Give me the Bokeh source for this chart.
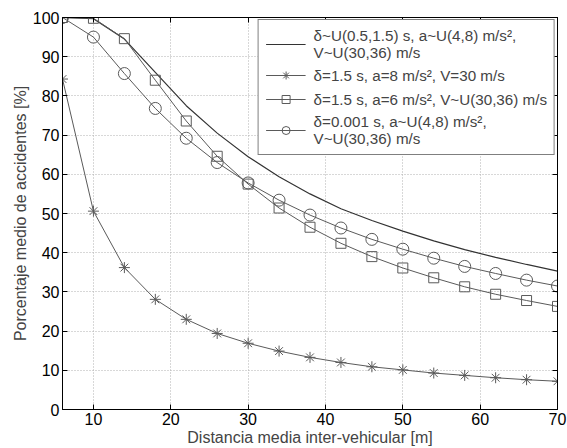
from bokeh.plotting import figure
from bokeh.models import FixedTicker, LinearAxis, Legend, LegendItem, Range1d
from bokeh.embed import file_html
from bokeh.resources import INLINE

dist = [6, 10, 14, 18, 22, 26, 30, 34, 38, 42, 46, 50, 54, 58, 62, 66, 70]
s_solid = [100, 99.7, 94.5, 86.0, 77.5, 70.5, 64.5, 59.4, 55.0, 51.2, 48.2, 45.5, 43.0, 40.8, 38.8, 37.0, 35.3]
s_star = [84.3, 50.6, 36.2, 28.1, 23.0, 19.4, 16.9, 14.9, 13.3, 12.0, 10.9, 10.1, 9.3, 8.7, 8.1, 7.6, 7.2]
s_square = [100, 99.8, 94.6, 84.0, 73.6, 64.6, 57.5, 51.4, 46.5, 42.4, 39.0, 36.1, 33.6, 31.3, 29.4, 27.8, 26.3]
s_circle = [100, 95.0, 85.7, 76.8, 69.2, 63.0, 57.8, 53.4, 49.6, 46.3, 43.4, 40.9, 38.6, 36.5, 34.7, 33.0, 31.5]

labels = [
    "\u03b4~U(0.5,1.5) s, a~U(4,8) m/s\u00b2,\nV~U(30,36) m/s",
    "\u03b4=1.5 s, a=8 m/s\u00b2, V=30 m/s",
    "\u03b4=1.5 s, a=6 m/s\u00b2, V~U(30,36) m/s",
    "\u03b4=0.001 s, a~U(4,8) m/s\u00b2,\nV~U(30,36) m/s",
]
xticks = [10, 20, 30, 40, 50, 60, 70]
yticks = [0, 10, 20, 30, 40, 50, 60, 70, 80, 90, 100]

FONT = "Liberation Sans"

p = figure(width=567, height=448, output_backend="svg", toolbar_location=None,
           x_range=Range1d(6, 70), y_range=Range1d(0, 100),
           min_border_left=62, min_border_right=10, min_border_top=17, min_border_bottom=37)
p.outline_line_color = "black"
p.outline_line_width = 1

for ax in (p.xaxis[0], p.yaxis[0]):
    ax.major_tick_in = 5
    ax.major_tick_out = 0
    ax.minor_tick_in = 0
    ax.minor_tick_out = 0
    ax.major_label_text_font = FONT
    ax.major_label_text_font_size = "16px"
    ax.major_label_text_color = "black"
    ax.axis_label_text_font = FONT
    ax.axis_label_text_font_size = "16px"
    ax.axis_label_text_font_style = "normal"
    ax.axis_line_color = "black"
    ax.major_tick_line_color = "black"
    ax.major_label_standoff = 3
    ax.axis_label_standoff = 1

p.xaxis.ticker = FixedTicker(ticks=xticks)
p.yaxis.ticker = FixedTicker(ticks=yticks)
p.xaxis.axis_label = "Distancia media inter-vehicular [m]"
p.yaxis.axis_label = "Porcentaje medio de accidentes [%]"

top = LinearAxis(ticker=FixedTicker(ticks=xticks), major_label_text_alpha=0,
                 major_label_text_font_size="1px", major_tick_in=5, major_tick_out=0,
                 minor_tick_in=0, minor_tick_out=0, major_label_standoff=0)
right = LinearAxis(ticker=FixedTicker(ticks=yticks), major_label_text_alpha=0,
                   major_label_text_font_size="1px", major_tick_in=5, major_tick_out=0,
                   minor_tick_in=0, minor_tick_out=0, major_label_standoff=0)
p.add_layout(top, "above")
p.add_layout(right, "right")

p.xgrid.ticker = FixedTicker(ticks=xticks)
p.ygrid.ticker = FixedTicker(ticks=yticks)
for g in (p.xgrid[0], p.ygrid[0]):
    g.grid_line_color = "#b0b0b0"
    g.grid_line_dash = "1 2"
    g.grid_line_width = 1

lc = "#5a5a5a"
r0 = p.line(dist, s_solid, line_color="#333333", line_width=1.2)
r1 = p.line(dist, s_star, line_color=lc, line_width=1)
m1 = p.scatter(dist, s_star, marker="asterisk", size=11, line_color=lc, line_width=1)
r2 = p.line(dist, s_square, line_color=lc, line_width=1)
m2 = p.scatter(dist, s_square, marker="square", size=10, line_color=lc, fill_color=None, line_width=1)
r3 = p.line(dist, s_circle, line_color=lc, line_width=1)
m3 = p.scatter(dist, s_circle, marker="circle", size=12, line_color=lc, fill_color=None, line_width=1)

legend = Legend(items=[
    LegendItem(label=labels[0], renderers=[r0]),
    LegendItem(label=labels[1], renderers=[r1, m1]),
    LegendItem(label=labels[2], renderers=[r2, m2]),
    LegendItem(label=labels[3], renderers=[r3, m3]),
], location="top_right")
legend.label_text_font = FONT
legend.label_text_font_size = "15.2px"
legend.border_line_color = "black"
legend.border_line_width = 1
legend.background_fill_alpha = 1
legend.glyph_width = 40
legend.spacing = 4
legend.padding = 7
legend.margin = 2
legend.label_standoff = 8
legend.label_height = 20
p.add_layout(legend)

open("out.html", "w").write(file_html(p, INLINE))
